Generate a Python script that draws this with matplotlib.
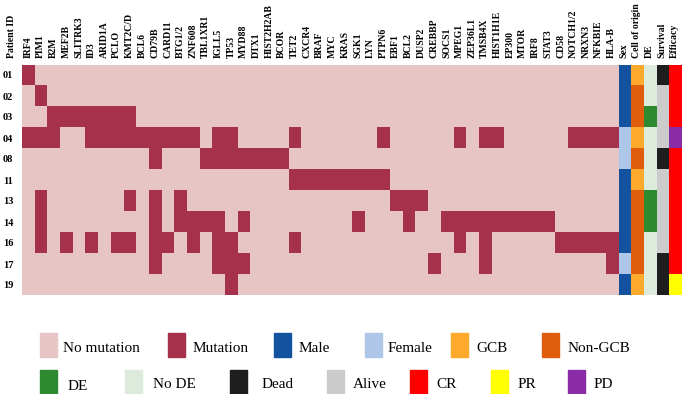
import numpy as np
import matplotlib
matplotlib.use("Agg")
import matplotlib.pyplot as plt
from matplotlib.colors import ListedColormap
from matplotlib.patches import Rectangle

plt.rcParams['font.family'] = ['Liberation Serif', 'DejaVu Serif']

# ---- data ----
genes = ["IRF4", "PIM1", "B2M", "MEF2B", "SLITRK3", "ID3", "ARID1A", "PCLO", "KMT2C/D",
         "BCL6", "CD79B", "CARD11", "BTG1/2", "ZNF608", "TBL1XR1", "IGLL5", "TP53", "MYD88",
         "DTX1", "HIST2H2AB", "BCOR", "TET2", "CXCR4", "BRAF", "MYC", "KRAS", "SGK1", "LYN",
         "PTPN6", "EBF1", "BCL2", "DUSP2", "CREBBP", "SOCS1", "MPEG1", "ZEP36L1", "TMSB4X",
         "HIST1H1E", "EP300", "MTOR", "IRF8", "STAT3", "CD58", "NOTCH1/2", "NRXN3", "NFKBIE",
         "HLA-B"]
clin_cols = ["Sex", "Cell of origin", "DE", "Survival", "Efficacy"]
patients = ["01", "02", "03", "04", "08", "11", "13", "14", "16", "17", "19"]

mutated = [
    ["IRF4"],
    ["PIM1"],
    ["B2M", "MEF2B", "SLITRK3", "ID3", "ARID1A", "PCLO", "KMT2C/D"],
    ["IRF4", "PIM1", "B2M", "ID3", "ARID1A", "PCLO", "KMT2C/D", "BCL6", "CD79B", "CARD11",
     "BTG1/2", "ZNF608", "IGLL5", "TP53", "TET2", "PTPN6", "MPEG1", "TMSB4X", "HIST1H1E",
     "NOTCH1/2", "NRXN3", "NFKBIE", "HLA-B"],
    ["CD79B", "TBL1XR1", "IGLL5", "TP53", "MYD88", "DTX1", "HIST2H2AB", "BCOR"],
    ["TET2", "CXCR4", "BRAF", "MYC", "KRAS", "SGK1", "LYN", "PTPN6"],
    ["PIM1", "KMT2C/D", "CD79B", "BTG1/2", "EBF1", "BCL2", "DUSP2"],
    ["PIM1", "CD79B", "BTG1/2", "ZNF608", "TBL1XR1", "IGLL5", "MYD88", "SGK1", "BCL2",
     "SOCS1", "MPEG1", "ZEP36L1", "TMSB4X", "HIST1H1E", "EP300", "MTOR", "IRF8", "STAT3"],
    ["PIM1", "MEF2B", "ID3", "PCLO", "KMT2C/D", "CD79B", "CARD11", "ZNF608", "IGLL5", "TP53",
     "TET2", "MPEG1", "TMSB4X", "CD58", "NOTCH1/2", "NRXN3", "NFKBIE", "HLA-B"],
    ["CD79B", "IGLL5", "TP53", "MYD88", "CREBBP", "TMSB4X", "HLA-B"],
    ["TP53"],
]

sex = ["Male", "Male", "Male", "Female", "Female", "Male", "Male", "Male", "Male", "Female", "Male"]
cell_origin = ["GCB", "Non-GCB", "Non-GCB", "GCB", "Non-GCB", "GCB", "Non-GCB", "Non-GCB",
               "Non-GCB", "Non-GCB", "GCB"]
de = ["No DE", "No DE", "DE", "No DE", "No DE", "No DE", "DE", "DE", "No DE", "No DE", "No DE"]
survival = ["Dead", "Alive", "Alive", "Alive", "Dead", "Alive", "Alive", "Alive", "Alive",
            "Dead", "Dead"]
efficacy = ["CR", "CR", "CR", "PD", "CR", "CR", "CR", "CR", "CR", "CR", "PR"]

categories = ["No mutation", "Mutation", "Male", "Female", "GCB", "Non-GCB", "DE", "No DE",
              "Dead", "Alive", "CR", "PR", "PD"]
colors = ["#E7C5C5", "#A6314B", "#13529E", "#AEC7E8", "#FDA92B", "#E15D0E", "#2E8A2E",
          "#DCEBDC", "#1E1E1E", "#CCCCCC", "#FF0000", "#FFFF00", "#8A2CA6"]

# ---- build matrix of category codes ----
code = {c: i for i, c in enumerate(categories)}
mat = np.zeros((len(patients), len(genes) + len(clin_cols)), dtype=int)
for r, muts in enumerate(mutated):
    for g in muts:
        mat[r, genes.index(g)] = 1
for k, col in enumerate([sex, cell_origin, de, survival, efficacy]):
    for r, v in enumerate(col):
        mat[r, len(genes) + k] = code[v]

W, H = 685, 394
fig = plt.figure(figsize=(W / 100, H / 100), dpi=100)
ax = fig.add_axes([21.7 / W, 1 - 295.5 / H, 659.3 / W, 231 / H])
ax.imshow(mat, cmap=ListedColormap(colors), vmin=-0.5, vmax=len(colors) - 0.5,
          aspect="auto", interpolation="nearest")

ax.set_xticks(np.arange(mat.shape[1]))
ax.set_xticklabels(genes + clin_cols, rotation=90, fontsize=7, fontweight="bold")
ax.xaxis.tick_top()
ax.set_yticks(np.arange(len(patients)))
ax.set_yticklabels(patients, fontsize=7.5, fontweight="bold")
ax.tick_params(axis="x", length=0, pad=5)
ax.tick_params(axis="y", length=0, pad=6)
for s in ax.spines.values():
    s.set_visible(False)

fig.text(11 / W, 1 - 58 / H, "Patient ID", rotation=90, ha="center", va="bottom",
         fontsize=7, fontweight="bold")

# ---- legend ----
legend_rows = [
    [("No mutation", 40, 63), ("Mutation", 168, 193), ("Male", 274, 299), ("Female", 365, 388),
     ("GCB", 451, 476), ("Non-GCB", 542, 568)],
    [("DE", 40, 68), ("No DE", 125, 153), ("Dead", 230, 262), ("Alive", 327, 353),
     ("CR", 410, 436), ("PR", 491, 518), ("PD", 568, 594)],
]
row_y = [(333, 357, 348, 349), (370, 394, 386, 384)]
for items, (ytop, ybot, ytxt1, ytxt2) in zip(legend_rows, row_y):
    for j, (name, px, tx) in enumerate(items):
        fig.patches.append(Rectangle((px / W, 1 - ybot / H), 17 / W, (ybot - ytop) / H,
                                     transform=fig.transFigure, color=colors[code[name]]))
        ytxt = ytxt1 if j == 0 else ytxt2
        fig.text(tx / W, 1 - ytxt / H, name, ha="left", va="center", fontsize=11)

fig.savefig("out.png", dpi=100)
